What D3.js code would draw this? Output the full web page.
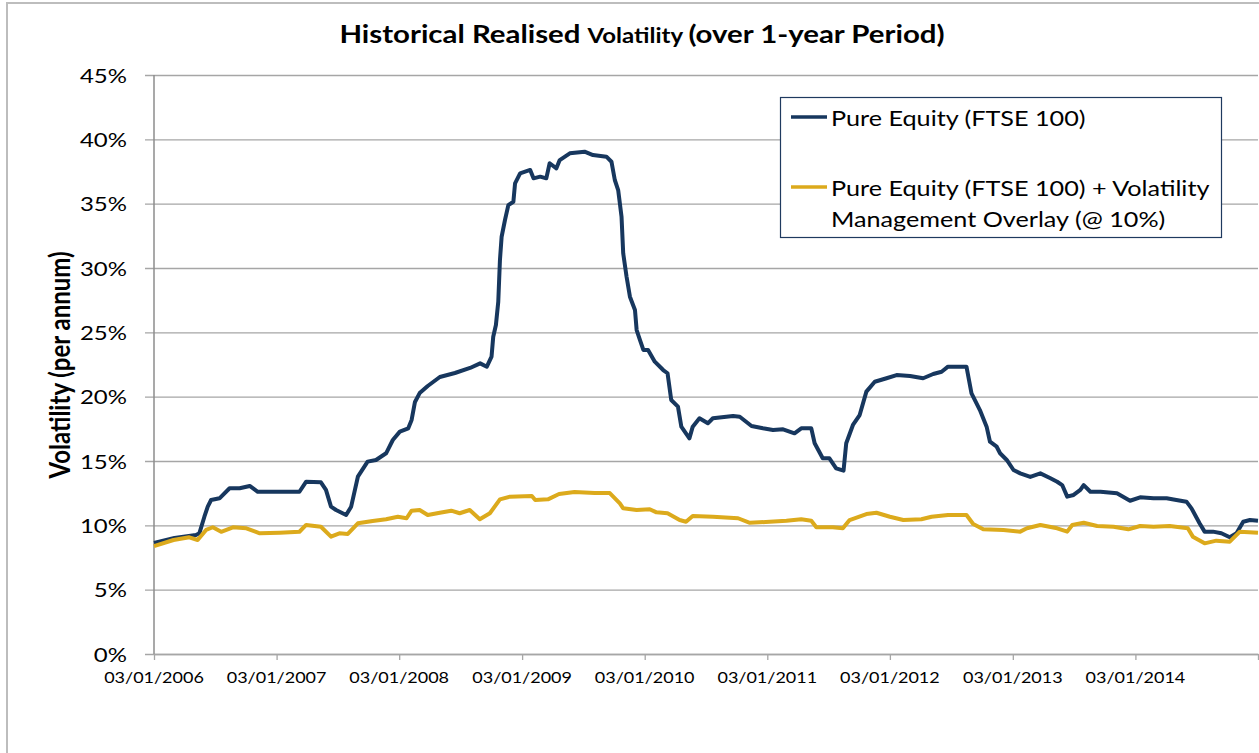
<!DOCTYPE html>
<html>
<head>
<meta charset="utf-8">
<script src="https://cdn.jsdelivr.net/npm/d3@7"></script>
<style>
  html, body { margin: 0; padding: 0; background: #fff; }
  svg { display: block; font-family: Lato, "Open Sans", sans-serif; }
</style>
</head>
<body>
<svg id="chart" width="1259" height="753"></svg>
<script>
// Pure Equity (FTSE 100), 1-year realised vol
var equityDates = ["2006-01-03","2006-03-05","2006-05-08","2006-05-18","2006-06-02","2006-06-12","2006-06-22","2006-07-17",
  "2006-08-16","2006-09-15","2006-10-15","2006-11-08","2007-01-13","2007-03-12","2007-04-01","2007-05-15","2007-05-30",
  "2007-06-14","2007-06-29","2007-07-29","2007-08-13","2007-09-02","2007-10-01","2007-10-26","2007-11-25","2007-12-15",
  "2008-01-05","2008-01-30","2008-02-09","2008-02-19","2008-03-04","2008-03-28","2008-05-03","2008-06-17","2008-08-01",
  "2008-08-31","2008-09-20","2008-10-04","2008-10-09","2008-10-17","2008-10-24","2008-10-29","2008-11-03","2008-11-13",
  "2008-11-23","2008-12-08","2008-12-13","2008-12-28","2009-01-27","2009-02-06","2009-02-26","2009-03-16","2009-03-26",
  "2009-04-15","2009-04-25","2009-05-25","2009-07-08","2009-08-02","2009-09-11","2009-09-26","2009-10-06","2009-10-16",
  "2009-10-26","2009-10-31","2009-11-10","2009-11-20","2009-12-05","2009-12-10","2009-12-20","2009-12-30","2010-01-13",
  "2010-02-02","2010-02-27","2010-03-12","2010-03-23","2010-04-12","2010-04-22","2010-05-16","2010-05-26","2010-06-15",
  "2010-07-10","2010-07-25","2010-09-23","2010-10-13","2010-11-17","2010-12-21","2011-01-20","2011-02-19","2011-03-25",
  "2011-04-14","2011-05-14","2011-05-24","2011-06-17","2011-07-07","2011-07-27","2011-08-18","2011-08-26","2011-09-15",
  "2011-10-05","2011-10-25","2011-11-19","2011-12-24","2012-01-23","2012-03-03","2012-04-11","2012-05-11","2012-06-05",
  "2012-06-24","2012-08-18","2012-09-02","2012-09-27","2012-10-17","2012-10-27","2012-11-16","2012-11-26","2012-12-16",
  "2013-01-05","2013-01-25","2013-02-24","2013-03-26","2013-04-25","2013-05-15","2013-05-30","2013-06-14","2013-07-03",
  "2013-07-23","2013-08-02","2013-08-22","2013-09-21","2013-11-09","2013-12-18","2014-01-17","2014-02-26","2014-04-06",
  "2014-05-05","2014-06-04","2014-06-19","2014-07-13","2014-07-28","2014-08-22","2014-09-16","2014-10-11","2014-10-31",
  "2014-11-20","2014-12-10","2015-01-03"];
var equityVol = [8.63,9.02,9.25,9.38,10.67,11.45,11.97,12.10,
  12.88,12.88,13.06,12.61,12.61,12.61,13.39,13.34,12.75,
  11.45,11.19,10.80,11.45,13.78,14.95,15.08,15.60,16.63,
  17.28,17.54,18.19,19.59,20.28,20.83,21.53,21.84,22.23,
  22.59,22.33,23.11,24.66,25.57,27.38,30.62,32.43,33.73,
  34.89,35.15,36.58,37.36,37.62,36.97,37.10,36.97,38.14,
  37.75,38.39,38.91,39.04,38.78,38.65,38.26,36.84,36.06,
  33.99,31.14,29.32,27.77,26.74,25.18,24.40,23.63,23.63,
  22.72,22.07,21.82,19.74,19.22,17.67,16.76,17.67,18.32,
  17.93,18.32,18.50,18.44,17.72,17.54,17.41,17.46,17.15,
  17.54,17.54,16.38,15.21,15.21,14.43,14.25,16.38,17.80,
  18.57,20.39,21.16,21.43,21.68,21.61,21.43,21.76,21.94,
  22.33,22.33,20.26,18.96,17.67,16.50,16.11,15.60,15.08,
  14.30,14.04,13.76,14.04,13.66,13.39,13.13,12.23,12.36,
  12.75,13.13,12.61,12.61,12.49,11.91,12.18,12.10,12.10,
  11.97,11.84,11.32,10.16,9.51,9.51,9.38,9.07,9.38,
  10.28,10.41,10.36];

// Pure Equity + Volatility Management Overlay (@ 10%)
var overlayDates = ["2006-01-03","2006-03-02","2006-04-18","2006-05-13","2006-06-07","2006-06-27","2006-07-22","2006-08-26",
  "2006-10-05","2006-11-14","2007-01-13","2007-03-12","2007-04-01","2007-05-15","2007-06-14","2007-07-09","2007-08-03",
  "2007-09-02","2007-10-16","2007-11-25","2007-12-30","2008-01-25","2008-02-09","2008-03-04","2008-03-28","2008-05-03",
  "2008-06-06","2008-07-01","2008-07-31","2008-08-30","2008-09-29","2008-10-29","2008-11-28","2009-02-01","2009-02-11",
  "2009-03-21","2009-04-23","2009-06-08","2009-08-07","2009-09-21","2009-10-21","2009-10-31","2009-12-10","2010-01-18",
  "2010-02-07","2010-03-12","2010-04-17","2010-05-06","2010-05-26","2010-07-25","2010-10-08","2010-11-12","2011-01-10",
  "2011-03-01","2011-04-14","2011-05-14","2011-05-29","2011-07-17","2011-08-16","2011-09-05","2011-10-25","2011-11-24",
  "2012-01-03","2012-02-12","2012-04-06","2012-05-06","2012-06-24","2012-08-18","2012-09-07","2012-10-07","2012-12-06",
  "2013-01-25","2013-02-14","2013-03-26","2013-05-15","2013-06-14","2013-06-29","2013-08-02","2013-09-11","2013-10-30",
  "2013-12-13","2014-01-17","2014-02-26","2014-04-15","2014-06-08","2014-06-23","2014-07-28","2014-09-01","2014-10-11",
  "2014-11-10","2015-01-03"];
var overlayVol = [8.39,8.86,9.07,8.86,9.64,9.85,9.50,9.85,
  9.77,9.38,9.43,9.50,10.03,9.89,9.12,9.38,9.33,
  10.16,10.34,10.47,10.67,10.55,11.14,11.19,10.80,10.98,
  11.14,10.94,11.19,10.47,10.94,12.02,12.23,12.28,11.97,
  12.02,12.43,12.59,12.51,12.51,11.71,11.32,11.19,11.25,
  11.01,10.94,10.41,10.28,10.72,10.67,10.55,10.20,10.28,
  10.36,10.47,10.36,9.85,9.85,9.77,10.41,10.88,10.98,
  10.67,10.41,10.47,10.67,10.80,10.80,10.10,9.69,9.64,
  9.51,9.77,10.03,9.77,9.51,10.03,10.20,9.95,9.89,
  9.69,9.95,9.89,9.95,9.77,9.12,8.60,8.81,8.73,
  9.51,9.43];

var yTicks = [0, 5, 10, 15, 20, 25, 30, 35, 40, 45];
var xTicks = ["2006-01-03","2007-01-03","2008-01-03","2009-01-03","2010-01-03","2011-01-03",
  "2012-01-03","2013-01-03","2014-01-03","2015-01-03"];
var xLabels = ["03/01/2006","03/01/2007","03/01/2008","03/01/2009","03/01/2010",
  "03/01/2011","03/01/2012","03/01/2013","03/01/2014"];

var seriesNames = ["Pure Equity (FTSE 100)",
  ["Pure Equity (FTSE 100) + Volatility", "Management Overlay (@ 10%)"]];
var colors = ["#17375e", "#dcaa1c"];

var plotLeft = 154, plotTop = 75, width = 1104, height = 579;
var sx = 1.2; // the source picture is stretched sideways, so is the text

var parse = d3.timeParse("%Y-%m-%d");
var svg = d3.select("#chart");

// outer chart border (right and bottom are off the picture)
svg.append("path")
  .attr("d", "M7,753 V3 H1259")
  .attr("fill", "none")
  .attr("stroke", "#bdbdbd")
  .attr("stroke-width", 2);

var x = d3.scaleTime()
  .domain([parse(xTicks[0]), parse(xTicks[xTicks.length - 1])])
  .range([plotLeft, plotLeft + width]);
var y = d3.scaleLinear().domain([0, 45]).range([plotTop + height, plotTop]);

// gridlines with the little ticks left of the axis
svg.append("g")
  .attr("transform", "translate(" + (plotLeft + width) + ",0)")
  .call(d3.axisLeft(y).tickValues(yTicks).tickSize(width + 9).tickFormat(""))
  .call(function(g) { g.select(".domain").remove(); })
  .selectAll("line")
  .attr("stroke", "#a6a6a6")
  .attr("stroke-width", 1.3);

// y labels
svg.append("g").selectAll("text")
  .data(yTicks)
  .enter().append("text")
  .attr("transform", function(d) { return "translate(127," + (y(d) + 7.5) + ") scale(" + sx + ",1)"; })
  .attr("text-anchor", "end")
  .attr("font-size", 20)
  .attr("fill", "#000")
  .text(function(d) { return d + "%"; });

// x axis
var xa = svg.append("g")
  .attr("transform", "translate(0," + (plotTop + height) + ")")
  .call(d3.axisBottom(x).tickValues(xTicks.map(parse)).tickSize(6).tickSizeOuter(0).tickFormat(""));
xa.select(".domain").attr("stroke", "#a6a6a6").attr("stroke-width", 1.5);
xa.selectAll("line").attr("stroke", "#a6a6a6").attr("stroke-width", 1.3);

svg.append("g").selectAll("text")
  .data(xLabels)
  .enter().append("text")
  .attr("transform", function(d, i) { return "translate(" + x(parse(xTicks[i])) + ",683) scale(" + sx + ",1)"; })
  .attr("text-anchor", "middle")
  .attr("font-size", 15)
  .attr("fill", "#000")
  .text(function(d) { return d; });

// y axis line
svg.append("line")
  .attr("x1", plotLeft).attr("x2", plotLeft)
  .attr("y1", plotTop).attr("y2", plotTop + height)
  .attr("stroke", "#8c8c8c")
  .attr("stroke-width", 1.5);

// series
var line = d3.line()
  .x(function(d) { return x(d.date); })
  .y(function(d) { return y(d.v); });

var equity = equityDates.map(function(d, i) { return {date: parse(d), v: equityVol[i]}; });
var overlay = overlayDates.map(function(d, i) { return {date: parse(d), v: overlayVol[i]}; });

[equity, overlay].forEach(function(data, i) {
  svg.append("path")
    .datum(data)
    .attr("d", line)
    .attr("fill", "none")
    .attr("stroke", colors[i])
    .attr("stroke-width", 4)
    .attr("stroke-linejoin", "round");
});

// title
var title = svg.append("text")
  .attr("transform", "translate(642,43) scale(" + sx + ",1)")
  .attr("text-anchor", "middle")
  .attr("font-weight", "bold")
  .attr("font-size", 24.5)
  .attr("fill", "#000");
title.append("tspan").text("Historical Realised ");
title.append("tspan").attr("font-size", 20).text("Volatility ");
title.append("tspan").text("(over 1-year Period)");

// y axis title
svg.append("text")
  .attr("transform", "translate(70,365) scale(" + sx + ",1) rotate(-90)")
  .attr("text-anchor", "middle")
  .attr("font-weight", "bold")
  .attr("font-size", 24)
  .attr("fill", "#000")
  .text("Volatility (per annum)");

// legend
var legend = svg.append("g");
legend.append("rect")
  .attr("x", 780.5).attr("y", 97.5)
  .attr("width", 441).attr("height", 140)
  .attr("fill", "#fff")
  .attr("stroke", "#1f3a5f")
  .attr("stroke-width", 1.2);

var rows = [{ly: 117, lines: [seriesNames[0]]}, {ly: 187, lines: seriesNames[1]}];
rows.forEach(function(r, i) {
  legend.append("line")
    .attr("x1", 791).attr("x2", 827)
    .attr("y1", r.ly).attr("y2", r.ly)
    .attr("stroke", colors[i])
    .attr("stroke-width", 3.5);
  r.lines.forEach(function(t, j) {
    legend.append("text")
      .attr("transform", "translate(831," + (r.ly + 9 + j * 31) + ") scale(" + sx + ",1)")
      .attr("font-size", 21)
      .attr("fill", "#000")
      .text(t);
  });
});
</script>
</body>
</html>
